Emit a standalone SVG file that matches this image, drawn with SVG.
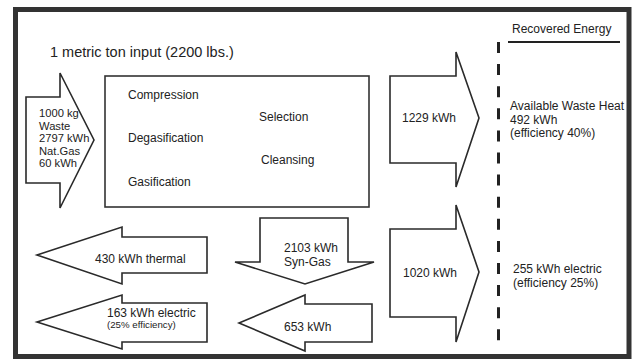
<svg xmlns="http://www.w3.org/2000/svg" width="636" height="361" viewBox="0 0 636 361">
<style>
text{font-family:"Liberation Sans",Arial,sans-serif;fill:#222;font-size:12px}
.arrow{fill:#fff;stroke:#2a2a2a;stroke-width:1.6;stroke-linejoin:miter}
.s11{font-size:11.2px}
.s9{font-size:9.7px}
.t{font-size:14.5px}
</style>
<rect x="0" y="0" width="636" height="361" fill="#fff"/>
<rect id="frame" x="15.5" y="9.5" width="613.5" height="347" fill="none" stroke="#333" stroke-width="5"/>
<text class="t" x="50" y="57">1 metric ton input (2200 lbs.)</text>
<g id="process">
<rect x="105" y="76" width="264" height="131" fill="#fff" stroke="#333" stroke-width="1.6"/>
<text x="128" y="99">Compression</text>
<text x="259" y="121">Selection</text>
<text x="128" y="142">Degasification</text>
<text x="261" y="164">Cleansing</text>
<text x="128" y="186">Gasification</text>
</g>
<g id="connectors">
<g id="input">
<polygon class="arrow" points="26,97 60,97 60,73 94,140 60,208 60,183 26,183"/>
<text class="s11" x="39" y="117">1000 kg</text>
<text class="s11" x="39" y="129.5">Waste</text>
<text class="s11" x="39" y="142">2797 kWh</text>
<text class="s11" x="39" y="154.5">Nat.Gas</text>
<text class="s11" x="39" y="167">60 kWh</text>
</g>
<g id="heat-out">
<polygon class="arrow" points="390,76 456,76 456,52 479,118 456,187 456,163 390,163"/>
<text x="402" y="122">1229 kWh</text>
</g>
<g id="elec-out">
<polygon class="arrow" points="390,229 456,229 456,205 479,272 456,342 456,317 390,317"/>
<text x="403" y="277">1020 kWh</text>
</g>
<g id="syngas">
<polygon class="arrow" points="260,218 348,218 348,262 374,262 305,284 235,262 260,262"/>
<text x="284" y="252">2103 kWh</text>
<text x="284" y="266">Syn-Gas</text>
</g>
<g id="kwh653">
<polygon class="arrow" points="239,323 305,295 305,304 372,304 372,342 305,342 305,351"/>
<text x="284" y="331">653 kWh</text>
</g>
<g id="thermal">
<polygon class="arrow" points="37,255 122,227 122,237 207,237 207,273 122,273 122,284"/>
<text x="95" y="263">430 kWh thermal</text>
</g>
<g id="electric">
<polygon class="arrow" points="37,322 122,295 122,303 207,303 207,342 122,342 122,349"/>
<text x="107" y="317">163 kWh electric</text>
<text class="s9" x="107" y="328">(25% efficiency)</text>
</g>
</g>
<g id="recovered">
<line x1="498.5" y1="42" x2="498.5" y2="341" stroke="#222" stroke-width="3" stroke-dasharray="11 11.1"/>
<text x="512" y="33">Recovered Energy</text>
<line x1="508" y1="42" x2="620" y2="42" stroke="#222" stroke-width="2"/>
<text x="510" y="110">Available Waste Heat</text>
<text x="510" y="123.5">492 kWh</text>
<text x="510" y="137">(efficiency 40%)</text>
<text x="513" y="273">255 kWh electric</text>
<text x="513" y="287">(efficiency 25%)</text>
</g>
</svg>
